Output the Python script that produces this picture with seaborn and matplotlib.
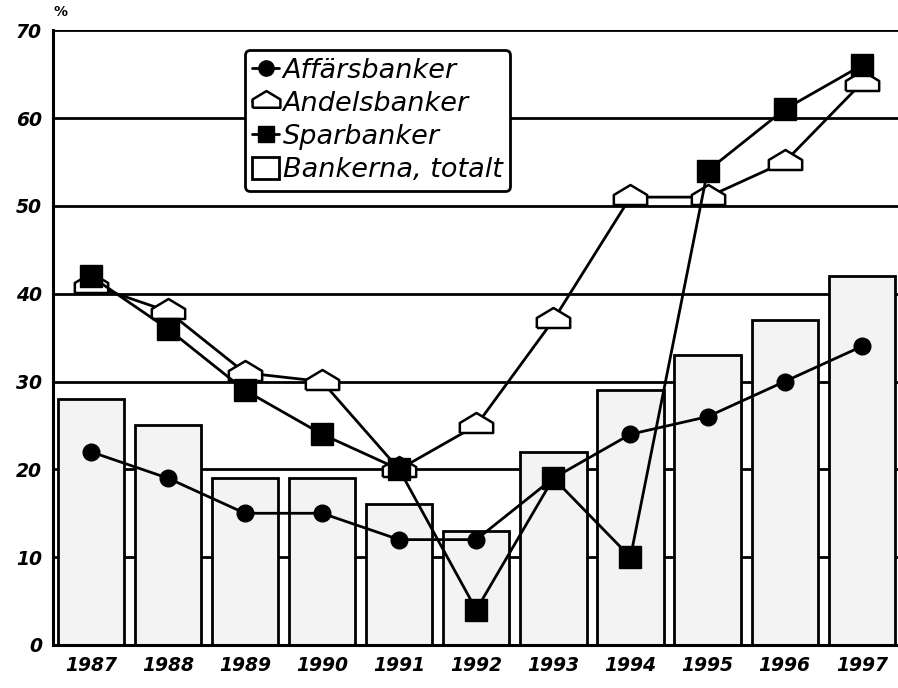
import numpy as np
import pandas as pd
import seaborn as sns
import matplotlib.pyplot as plt
from matplotlib.patches import Patch

years = ['1987', '1988', '1989', '1990', '1991', '1992', '1993', '1994', '1995', '1996', '1997']
totalt = [28, 25, 19, 19, 16, 13, 22, 29, 33, 37, 42]
affars = [22, 19, 15, 15, 12, 12, 19, 24, 26, 30, 34]
andels = [41, 38, 31, 30, 20, 25, 37, 51, 51, 55, 64]
spar = [42, 36, 29, 24, 20, 4, 19, 10, 54, 61, 66]

yticks = [0, 10, 20, 30, 40, 50, 60, 70]

sns.set_style("white")
plt.rcParams['font.family'] = ['DejaVu Sans']
plt.rcParams['text.color'] = 'black'
plt.rcParams['xtick.color'] = 'black'
plt.rcParams['ytick.color'] = 'black'

df = pd.DataFrame({'year': years, 'totalt': totalt})

fig = plt.figure(figsize=(8.98, 6.88), dpi=100)
ax = fig.add_axes([0.059, 0.0625, 0.941, 0.8935])

# bars behind, gridlines behind bars
sns.barplot(data=df, x='year', y='totalt', color='#f3f3f3', width=0.86,
            edgecolor='black', linewidth=2, saturation=1, ax=ax, zorder=2)
for p in ax.patches:
    p.set_facecolor('#f3f3f3')

pos = np.arange(len(years))
house = [(-1, -0.45), (1, -0.45), (1, 0.15), (0, 0.75), (-1, 0.15), (-1, -0.45)]

l1, = ax.plot(pos, affars, color='black', lw=2, marker='o', ms=12,
              mfc='black', mec='black', zorder=4)
l2, = ax.plot(pos, andels, color='black', lw=2, marker=house, ms=24,
              mfc='white', mec='black', mew=1.8, zorder=5)
l3, = ax.plot(pos, spar, color='black', lw=2, marker='s', ms=16,
              mfc='black', mec='black', zorder=6)

ax.set_ylim(0, 70)
ax.set_xlim(-0.49, 10.47)
ax.set_yticks(yticks)
ax.yaxis.grid(True, color='black', lw=2)
ax.set_axisbelow(True)

for s in ['top', 'right']:
    ax.spines[s].set_visible(False)
for s in ['left', 'bottom']:
    ax.spines[s].set_linewidth(2.2)
    ax.spines[s].set_color('black')

ax.tick_params(length=0, labelsize=13.5, pad=8, labelcolor='black')
for t in ax.get_xticklabels() + ax.get_yticklabels():
    t.set_fontstyle('italic')
    t.set_fontweight('bold')
ax.set_xlabel('')
ax.set_ylabel('')

fig.text(0.067, 0.982, '%', fontsize=10, fontweight='bold', ha='center', va='center')

box = Patch(facecolor='white', edgecolor='black', linewidth=2)
leg = ax.legend([l1, l2, l3, box],
                ['Affärsbanker', 'Andelsbanker', 'Sparbanker', 'Bankerna, totalt'],
                loc='upper left', bbox_to_anchor=(0.227, 0.968),
                fancybox=True, framealpha=1, edgecolor='black',
                handlelength=1.0, handleheight=0.9, handletextpad=0.12,
                labelspacing=0.24, borderpad=0.28, borderaxespad=0,
                prop={'size': 19.5, 'style': 'italic'}, labelcolor='black')
leg.get_frame().set_linewidth(2)
leg.set_zorder(10)
for h in leg.legend_handles[:3]:
    h.set_markersize(11)
leg.legend_handles[1].set_markersize(20)

fig.savefig('out.png', dpi=100)
